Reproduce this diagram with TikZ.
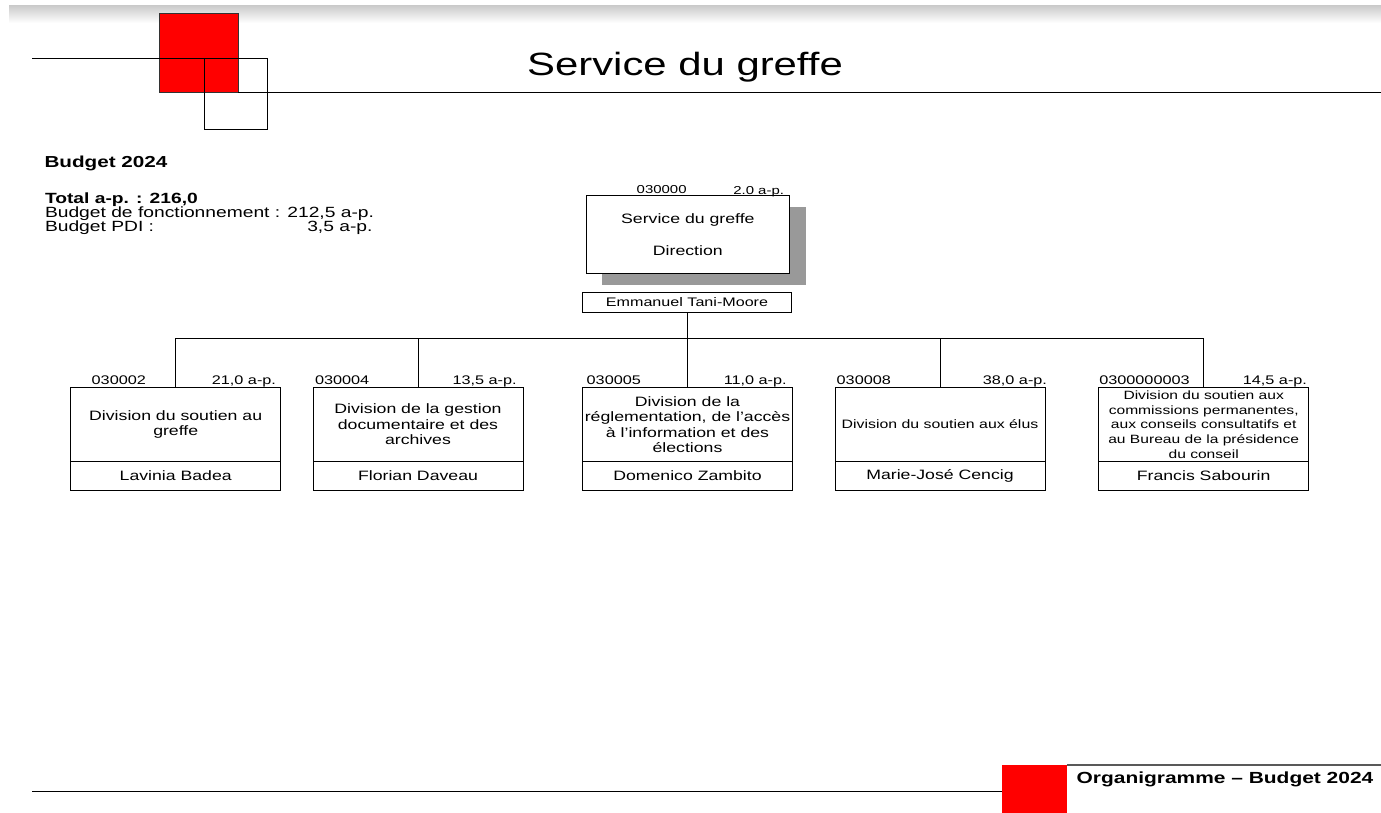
\documentclass[tikz,border=0pt]{standalone}
\usepackage{fontspec}
\setmainfont[FakeStretch=1.3]{Liberation Sans}
\begin{document}
\begin{tikzpicture}[x=1pt,y=-1pt,
  lbl/.style={inner sep=0pt, outer sep=0pt},
  thinline/.style={draw=black, line width=1pt},
  divbox/.style={draw=black, line width=1pt, minimum width=210pt, minimum height=74.4pt,
    inner sep=0pt, outer sep=0pt, align=center, anchor=north, font=\fontsize{13.6}{15.5}\selectfont},
  namebox/.style={draw=black, line width=1pt, minimum width=210pt, minimum height=28.3pt,
    inner sep=0pt, outer sep=0pt, anchor=north, font=\fontsize{13.6}{15.5}\selectfont},
  code/.style={inner sep=0pt, outer sep=0pt, font=\fontsize{12.5}{14}\selectfont},
  conn/.style={draw=black, line width=1pt}
]
\useasboundingbox (0,0) rectangle (1381,813);
\fill[white] (0,0) rectangle (1381,813);
% top shaded band
\shade[top color=black!20, bottom color=white] (9,6) rectangle (1381,23);
% header decoration
\fill[red, draw=black!80, line width=1pt] (159,14) rectangle (238,93);
\draw[thinline] (32,59) -- (204,59);
\draw[thinline] (204,59) rectangle (267,130);
\draw[thinline] (238,93) -- (1381,93);
\node[lbl, anchor=base, font=\fontsize{32.2}{36}\selectfont] (title) at (685,75.7) {Service du greffe};
% budget text
\node[lbl, anchor=base west, font=\bfseries\fontsize{15.9}{18}\selectfont] (budget) at (44.5,167.7) {Budget 2024};
\node[lbl, anchor=base west, font=\bfseries\fontsize{14.8}{16}\selectfont] (total) at (45,204) {Total a-p. : 216,0};
\node[lbl, anchor=base west, font=\fontsize{14.8}{16}\selectfont] (fonct) at (45,218) {Budget de fonctionnement : 212,5 a-p.};
\node[lbl, anchor=base west, font=\fontsize{14.8}{16}\selectfont] (pdi) at (45,232) {Budget PDI :};
\node[lbl, anchor=base east, font=\fontsize{14.8}{16}\selectfont] (pdival) at (372.5,232) {3,5 a-p.};
% top box
\fill[black!40] (601.7,206.7) rectangle (806,285);
\node[draw=black, line width=1pt, fill=white, minimum width=202.7pt, minimum height=77.7pt,
  inner sep=0pt, anchor=north west, align=center, font=\fontsize{13.6}{32}\selectfont]
  (top) at (586,195) {Service du greffe\\Direction};
\node[code, anchor=base west, font=\fontsize{11.5}{13}\selectfont] (topcode) at (636.7,194) {030000};
\node[code, anchor=base east, font=\fontsize{11.5}{13}\selectfont] (topap) at (784,194.5) {2.0 a-p.};
\node[draw=black, line width=1pt, fill=white, minimum width=208.6pt, minimum height=20pt,
  inner sep=0pt, anchor=north, font=\fontsize{12.4}{14}\selectfont] (ename) at (687,291.7) {Emmanuel Tani-Moore};
% division boxes
\node[divbox] (d1) at (175.7,387.3) {Division du soutien au\\greffe};
\node[namebox] (n1) at (d1.south) {Lavinia Badea};
\node[divbox] (d2) at (418,387.3) {Division de la gestion\\documentaire et des\\archives};
\node[namebox] (n2) at (d2.south) {Florian Daveau};
\node[divbox] (d3) at (687.5,387.3) {Division de la\\réglementation, de l’accès\\à l’information et des\\élections};
\node[namebox] (n3) at (d3.south) {Domenico Zambito};
\node[divbox, font=\fontsize{12.2}{14.7}\selectfont] (d4) at (940,387.3) {Division du soutien aux élus};
\node[namebox] (n4) at (d4.south) {Marie-José Cencig};
\node[divbox, font=\fontsize{12.0}{14.7}\selectfont] (d5) at (1203.7,387.3) {Division du soutien aux\\commissions permanentes,\\aux conseils consultatifs et\\au Bureau de la présidence\\du conseil};
\node[namebox] (n5) at (d5.south) {Francis Sabourin};
% codes
\node[code, anchor=base west] (c1) at (91.7,384.5) {030002};
\node[code, anchor=base east] (a1) at (276,384.5) {21,0 a-p.};
\node[code, anchor=base west] (c2) at (315,384.5) {030004};
\node[code, anchor=base east] (a2) at (516.7,384.5) {13,5 a-p.};
\node[code, anchor=base west] (c3) at (586.7,384.5) {030005};
\node[code, anchor=base east] (a3) at (786.7,384.5) {11,0 a-p.};
\node[code, anchor=base west] (c4) at (836.7,384.5) {030008};
\node[code, anchor=base east] (a4) at (1047,384.5) {38,0 a-p.};
\node[code, anchor=base west] (c5) at (1099.3,384.5) {0300000003};
\node[code, anchor=base east] (a5) at (1307,384.5) {14,5 a-p.};
% connectors
\coordinate (j) at (687,338.3);
\draw[conn] (ename.south) -- (ename.south |- j);
\draw[conn] (d1.north |- j) -- (d5.north |- j);
\foreach \i in {1,...,5} { \draw[conn] (d\i.north |- j) -- (d\i.north); }
% footer
\draw[thinline] (32,791) -- (1002,791);
\fill[red] (1002,765) rectangle (1067,813);
\draw[draw=black!65, line width=1.3pt] (1067,765) -- (1381,765);
\node[lbl, anchor=base west, font=\bfseries\fontsize{16.1}{18}\selectfont] (footer) at (1076.7,783.3) {Organigramme -- Budget 2024};
\end{tikzpicture}
\end{document}
